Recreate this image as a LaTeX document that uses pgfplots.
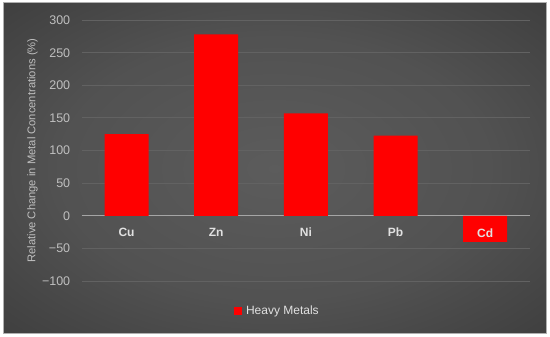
\documentclass[border=0pt]{standalone}
\usepackage{pgfplots}
\pgfplotsset{compat=1.18}
\usepackage{fontspec}
\setmainfont{Liberation Sans}
\definecolor{tickgray}{RGB}{191,191,191}
\definecolor{catgray}{RGB}{225,225,225}
\definecolor{gridgray}{RGB}{98,98,98}
\definecolor{zerogray}{RGB}{165,165,165}
\definecolor{framegray}{RGB}{175,175,175}
\pgfdeclareradialshading{bgshade}{\pgfpoint{0bp}{0bp}}{rgb(0bp)=(0.36,0.36,0.36); rgb(20bp)=(0.32,0.32,0.32); rgb(50bp)=(0.18,0.18,0.18); rgb(71bp)=(0.14,0.14,0.14)}
\begin{document}
\begin{tikzpicture}
\fill[white] (0,0) rectangle (550bp,337bp);
\shade[shading=bgshade, draw=framegray, line width=1bp] (3bp,3bp) rectangle (546bp,334bp);
\begin{axis}[
  at={(81.7bp,56bp)}, anchor=south west,
  scale only axis, width=448.3bp, height=260.9bp,
  xmin=-0.5, xmax=4.5, ymin=-100, ymax=300,
  axis x line=middle, axis y line=left,
  x axis line style={-, draw=zerogray, line width=1.4bp},
  y axis line style={draw=none},
  ytick={-100,-50,0,50,100,150,200,250,300},
  yticklabels={−100,−50,0,50,100,150,200,250,300},
  xtick={0,1,2,3,4},
  xticklabels={Cu,Zn,Ni,Pb,{}},
  major tick length=0pt,
  ymajorgrids, grid style={gridgray, line width=0.9bp},
  yticklabel style={font=\fontsize{12.5bp}{14bp}\selectfont, color=tickgray, xshift=-8bp},
  xticklabel style={font=\fontsize{12bp}{14bp}\selectfont\bfseries, color=catgray, yshift=-9bp},
  ylabel={Relative Change in Metal Concentrations (\%)},
  every axis y label/.style={at={(axis description cs:-0.11,0.5)}, rotate=90, anchor=center, font=\fontsize{11.2bp}{13bp}\selectfont, color=tickgray},
  legend style={at={(axis description cs:0.436,-0.115)}, anchor=center, draw=none, fill=none, font=\fontsize{12bp}{14bp}\selectfont, text=catgray, inner sep=0pt},
  clip=false,
]
\addplot[ybar, bar width=44bp, fill=red, draw=none, forget plot] coordinates {(0,125) (1,278) (2,157) (3,123) (4,-40)};
\addlegendimage{legend image code/.code={\fill[red] (0bp,-3.5bp) rectangle (7bp,3.5bp); \path (10bp,0bp);}}
\addlegendentry{Heavy Metals}
\node[font=\fontsize{12bp}{14bp}\selectfont\bfseries, text=catgray, anchor=north, inner sep=4bp] at ([yshift=-9bp]axis cs:4,0) {Cd};
\end{axis}
\end{tikzpicture}
\end{document}
